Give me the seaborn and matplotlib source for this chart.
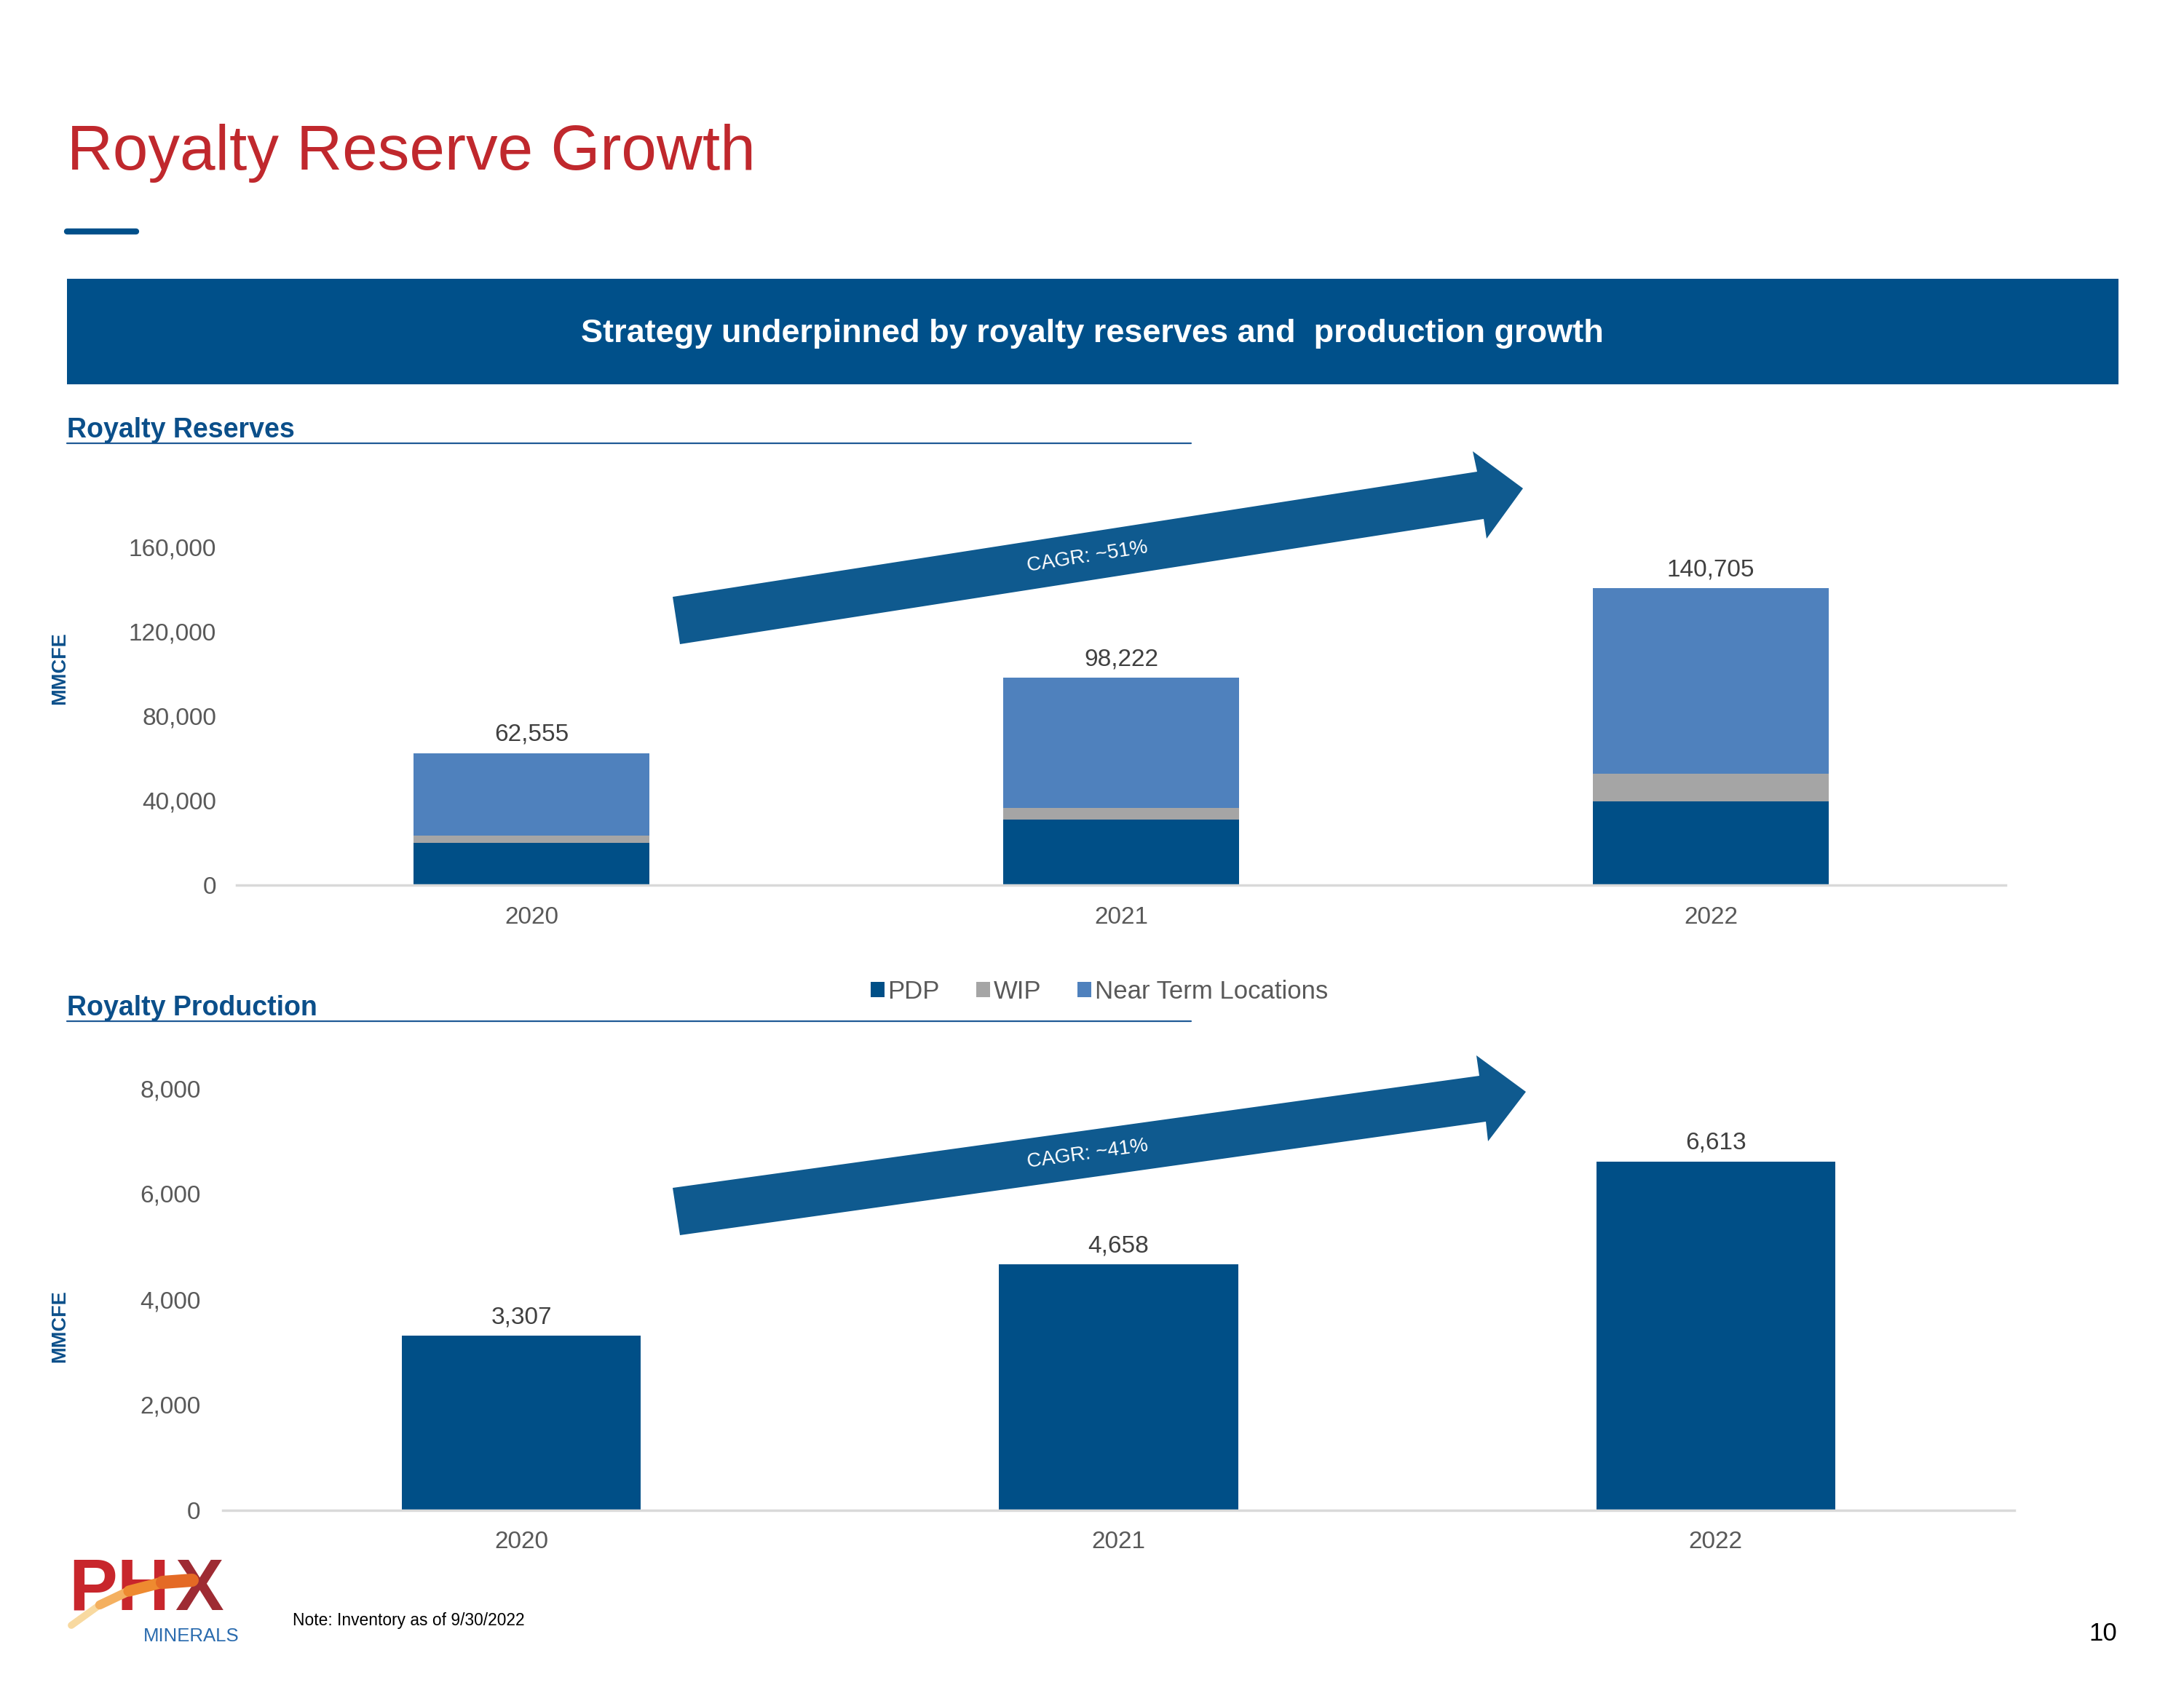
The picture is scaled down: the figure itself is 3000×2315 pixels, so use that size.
import matplotlib
matplotlib.use("Agg")
import matplotlib.pyplot as plt
import seaborn as sns
import pandas as pd
from matplotlib.patches import Polygon, Rectangle, Patch
from matplotlib.lines import Line2D

# ---------------- data ----------------
years = ["2020", "2021", "2022"]
reserves_total = [62555, 98222, 140705]
reserves_pdp = [20000, 31200, 39700]
reserves_wip = [3500, 5250, 13000]
reserves_near_term = [39055, 61772, 88005]
production = [3307, 4658, 6613]
reserve_ticks = [0, 40000, 80000, 120000, 160000]
production_ticks = [0, 2000, 4000, 6000, 8000]
series_names = ["PDP", "WIP", "Near Term Locations"]

# ---------------- style ----------------
sns.set_theme(style="white")
plt.rcParams["font.family"] = ["Liberation Sans", "DejaVu Sans"]

C_PDP = "#004F87"
C_WIP = "#A5A5A5"
C_NT = "#4F81BD"
C_ARROW = "#0F5A8F"
C_BANNER = "#00508A"
C_HEAD = "#0B4F8A"
C_RED = "#C0282D"
C_TICK = "#595959"
C_LABEL = "#404040"
C_AXIS = "#D9D9D9"

W, H = 3000, 2315
fig = plt.figure(figsize=(W / 100, H / 100), dpi=100)
fig.patch.set_facecolor("white")


def fx(x):
    return x / W


def fy(y):
    return 1 - y / H


# ---------------- header ----------------
fig.text(fx(92), fy(233), "Royalty Reserve Growth", color=C_RED, fontsize=62.8,
         ha="left", va="baseline")
fig.add_artist(Line2D([fx(92), fx(187)], [fy(318), fy(318)], color=C_BANNER, lw=6,
                      solid_capstyle="round", transform=fig.transFigure))
fig.add_artist(Rectangle((fx(92), fy(528)), fx(2910) - fx(92), fy(383) - fy(528),
                         transform=fig.transFigure, color=C_BANNER, lw=0))
fig.text(fx(1500), fy(459), "Strategy underpinned by royalty reserves and  production growth",
         color="white", fontsize=32.5, fontweight="bold", ha="center", va="center")

# section headings
fig.text(fx(92), fy(601), "Royalty Reserves", color=C_HEAD, fontsize=27,
         fontweight="bold", ha="left", va="baseline")
fig.add_artist(Line2D([fx(92), fx(1636)], [fy(609), fy(609)], color="#1F5A96", lw=1.6,
                      transform=fig.transFigure))
fig.text(fx(92), fy(1395), "Royalty Production", color=C_HEAD, fontsize=27,
         fontweight="bold", ha="left", va="baseline")
fig.add_artist(Line2D([fx(92), fx(1636)], [fy(1403), fy(1403)], color="#1F5A96", lw=1.6,
                      transform=fig.transFigure))


def style_axis(ax, ticks, pad_y, pad_x):
    ax.set_xlim(-0.5, 2.5)
    ax.set_ylim(ticks[0], ticks[-1])
    ax.set_yticks(ticks)
    ax.set_yticklabels([f"{t:,.0f}" for t in ticks])
    ax.tick_params(axis="y", length=0, pad=pad_y, labelsize=24, labelcolor=C_TICK)
    ax.tick_params(axis="x", length=0, pad=pad_x, labelsize=24, labelcolor=C_TICK)
    ax.set_xlabel("")
    ax.set_ylabel("")
    for s in ["left", "right", "top"]:
        ax.spines[s].set_visible(False)
    ax.spines["bottom"].set_color(C_AXIS)
    ax.spines["bottom"].set_linewidth(2.5)
    ax.grid(False)
    ax.set_facecolor("none")


# ---------------- reserves (stacked) ----------------
res = pd.DataFrame({"Year": years, "PDP": reserves_pdp, "WIP": reserves_wip,
                    "NT": reserves_near_term})
res["PDP_WIP"] = res["PDP"] + res["WIP"]
res["ALL"] = res["PDP_WIP"] + res["NT"]

ax1 = fig.add_axes([fx(325), fy(1216), (2755 - 325) / W, (1216 - 752) / H])
sns.barplot(data=res, x="Year", y="ALL", color=C_NT, width=0.4, saturation=1,
            linewidth=0, ax=ax1)
sns.barplot(data=res, x="Year", y="PDP_WIP", color=C_WIP, width=0.4, saturation=1,
            linewidth=0, ax=ax1)
sns.barplot(data=res, x="Year", y="PDP", color=C_PDP, width=0.4, saturation=1,
            linewidth=0, ax=ax1)
style_axis(ax1, reserve_ticks, 20, 21)
ax1.bar_label(ax1.containers[0], labels=[f"{v:,}" for v in reserves_total],
              padding=7, fontsize=24, color=C_LABEL)
fig.text(fx(82), fy(918), "MMCFE", rotation=90, color=C_HEAD, fontsize=19.5,
         fontweight="bold", ha="center", va="center")

# legend
handles = [Patch(facecolor=c, edgecolor="none") for c in (C_PDP, C_WIP, C_NT)]
fig.legend(handles, series_names, loc="center", bbox_to_anchor=(fx(1510), fy(1362)),
           ncol=3, frameon=False, fontsize=25, labelcolor=C_TICK,
           handlelength=0.55, handleheight=0.55, handletextpad=0.12,
           columnspacing=1.45)

# ---------------- production ----------------
prod = pd.DataFrame({"Year": years, "Production": production})
ax2 = fig.add_axes([fx(306), fy(2075), (2767 - 306) / W, (2075 - 1495) / H])
sns.barplot(data=prod, x="Year", y="Production", color=C_PDP, width=0.4, saturation=1,
            linewidth=0, ax=ax2)
style_axis(ax2, production_ticks, 22, 20)
ax2.bar_label(ax2.containers[0], labels=[f"{v:,}" for v in production],
              padding=7, fontsize=24, color=C_LABEL)
fig.text(fx(82), fy(1822), "MMCFE", rotation=90, color=C_HEAD, fontsize=19.5,
         fontweight="bold", ha="center", va="center")

# ---------------- growth arrows ----------------
arrow_top = [(924, 820), (2029, 648), (2023, 620), (2092, 671), (2042, 740),
             (2038, 713), (934, 885)]
arrow_bot = [(924, 1632), (2032, 1478), (2028, 1450), (2096, 1500), (2044, 1568),
             (2041, 1541), (934, 1697)]
for pts in (arrow_top, arrow_bot):
    fig.add_artist(Polygon([(fx(x), fy(y)) for x, y in pts], closed=True,
                           transform=fig.transFigure, facecolor=C_ARROW,
                           edgecolor="none", zorder=5))
fig.text(fx(1494), fy(765), "CAGR: ~51%", rotation=8.9, rotation_mode="anchor",
         color="white", fontsize=20, ha="center", va="center", zorder=6)
fig.text(fx(1494), fy(1586), "CAGR: ~41%", rotation=7.9, rotation_mode="anchor",
         color="white", fontsize=20, ha="center", va="center", zorder=6)

# ---------------- footer ----------------
swoosh = [(98, 2233), (137, 2205), (177, 2186), (223, 2174), (264, 2171)]
sw_cols = ["#F8D9A0", "#F4B060", "#EE8A30", "#E46A25", "#D8452A"]
for i in range(len(swoosh) - 1):
    (x0, y0), (x1, y1) = swoosh[i], swoosh[i + 1]
    fig.add_artist(Line2D([fx(x0), fx(x1)], [fy(y0), fy(y1)], color=sw_cols[i],
                          lw=7 + 2 * i, solid_capstyle="round",
                          transform=fig.transFigure, zorder=3))
fig.text(fx(94), fy(2212), "PH", color="#C8262C", fontsize=72, fontweight="bold",
         ha="left", va="baseline", zorder=2)
fig.text(fx(240), fy(2212), "X", color="#9E2B33", fontsize=72, fontweight="bold",
         ha="left", va="baseline", zorder=2)
fig.text(fx(263), fy(2248), "MINERALS", color="#2A6BAE", fontsize=18.5,
         ha="center", va="center")
fig.text(fx(402), fy(2227), "Note: Inventory as of 9/30/2022", color="black",
         fontsize=16.4, ha="left", va="center")
fig.text(fx(2908), fy(2244), "10", color="black", fontsize=25, ha="right", va="center")

fig.savefig("out.png", dpi=100, facecolor="white")
